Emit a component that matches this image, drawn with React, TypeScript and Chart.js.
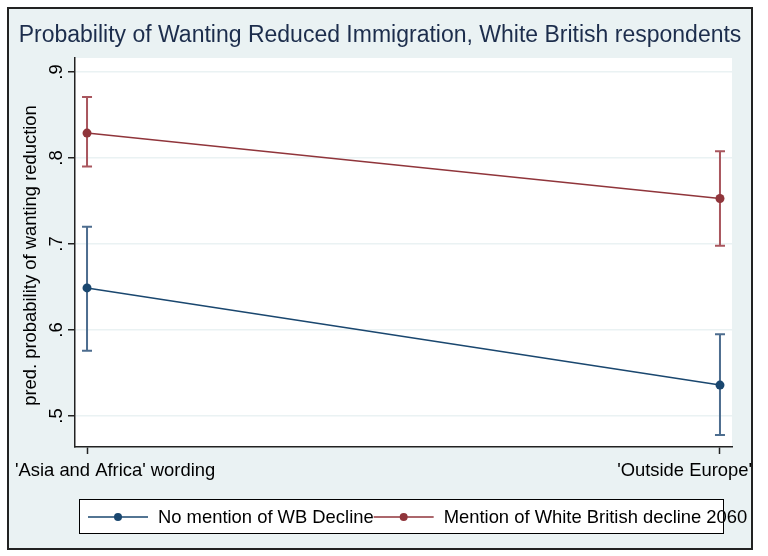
import { useEffect, useRef } from "react";
import { Chart, registerables } from "chart.js";

Chart.register(...registerables);

// x categories (positions 0 and 1 on the x scale)
const categories = ["'Asia and Africa' wording", "'Outside Europe'"];
const xPositions = [0, 1];

// predicted probabilities and 95% CIs
const noMention = [0.649, 0.536];
const noMentionLow = [0.576, 0.478];
const noMentionHigh = [0.72, 0.595];
const mention = [0.829, 0.753];
const mentionLow = [0.79, 0.698];
const mentionHigh = [0.871, 0.808];

const yTicks = [0.5, 0.6, 0.7, 0.8, 0.9];
const yTickLabels = [".5", ".6", ".7", ".8", ".9"];

const seriesNames = ["No mention of WB Decline", "Mention of White British decline 2060"];
const chartTitle = "Probability of Wanting Reduced Immigration, White British respondents";
const yTitle = "pred. probability of wanting reduction";

const NAVY = "#1a476f";
const MAROON = "#90353b";
const NAVY_CI = "#4d6d8f";
const MAROON_CI = "#a9565e";
const BG = "#eaf2f3";
const FONT = "'Liberation Sans', Arial, sans-serif";

const stataPlugin = {
  id: "stata",
  beforeDraw(chart: any) {
    const { ctx, chartArea } = chart;
    ctx.save();
    ctx.fillStyle = "#ffffff";
    ctx.fillRect(0, 0, chart.width, chart.height);
    ctx.fillStyle = BG;
    ctx.fillRect(8, 8, 744, 541);
    ctx.strokeStyle = "#222222";
    ctx.lineWidth = 2;
    ctx.strokeRect(8, 8, 744, 541);
    ctx.fillStyle = "#ffffff";
    ctx.fillRect(chartArea.left, chartArea.top, chartArea.right - chartArea.left, chartArea.bottom - chartArea.top);
    ctx.restore();
  },
  beforeDatasetsDraw(chart: any) {
    const { ctx } = chart;
    const xs = chart.scales.x;
    const ys = chart.scales.y;
    const sets = [
      { low: noMentionLow, high: noMentionHigh, color: NAVY_CI },
      { low: mentionLow, high: mentionHigh, color: MAROON_CI },
    ];
    ctx.save();
    ctx.lineWidth = 2;
    sets.forEach((s) => {
      ctx.strokeStyle = s.color;
      xPositions.forEach((xv, i) => {
        const px = xs.getPixelForValue(xv);
        const p1 = ys.getPixelForValue(s.low[i]);
        const p2 = ys.getPixelForValue(s.high[i]);
        ctx.beginPath();
        ctx.moveTo(px, p1);
        ctx.lineTo(px, p2);
        ctx.moveTo(px - 5, p1);
        ctx.lineTo(px + 5, p1);
        ctx.moveTo(px - 5, p2);
        ctx.lineTo(px + 5, p2);
        ctx.stroke();
      });
    });
    ctx.restore();
  },
  afterDraw(chart: any) {
    const { ctx } = chart;
    const xs = chart.scales.x;
    const ys = chart.scales.y;
    ctx.save();
    // title
    ctx.fillStyle = "#1c2d4c";
    ctx.font = `23px ${FONT}`;
    ctx.textAlign = "center";
    ctx.textBaseline = "alphabetic";
    ctx.fillText(chartTitle, 380, 42);

    ctx.fillStyle = "#000000";
    ctx.font = `18.4px ${FONT}`;
    // y tick labels, rotated
    yTicks.forEach((v, i) => {
      const py = ys.getPixelForValue(v);
      ctx.save();
      ctx.translate(62, py);
      ctx.rotate(-Math.PI / 2);
      ctx.textAlign = "center";
      ctx.fillText(yTickLabels[i], 0, 0);
      ctx.restore();
    });
    // y title
    ctx.save();
    ctx.translate(36, (chart.chartArea.top + chart.chartArea.bottom) / 2 + 3);
    ctx.rotate(-Math.PI / 2);
    ctx.textAlign = "center";
    ctx.fillText(yTitle, 0, 0);
    ctx.restore();

    // x tick labels, kept inside the graph region
    ctx.textAlign = "left";
    const w0 = ctx.measureText(categories[0]).width;
    ctx.fillText(categories[0], Math.max(15, xs.getPixelForValue(xPositions[0]) - w0 / 2), 476);
    const w1 = ctx.measureText(categories[1]).width;
    ctx.fillText(categories[1], Math.min(752 - w1, xs.getPixelForValue(xPositions[1]) - w1 / 2), 476);

    // legend
    ctx.fillStyle = "#ffffff";
    ctx.fillRect(79, 499, 644, 34);
    ctx.strokeStyle = "#000000";
    ctx.lineWidth = 1;
    ctx.strokeRect(79.5, 499.5, 644, 34);
    const colors = [NAVY, MAROON];
    let x = 88;
    const ly = 517;
    seriesNames.forEach((name, i) => {
      ctx.strokeStyle = colors[i];
      ctx.lineWidth = 1.5;
      ctx.beginPath();
      ctx.moveTo(x, ly);
      ctx.lineTo(x + 60, ly);
      ctx.stroke();
      ctx.fillStyle = colors[i];
      ctx.beginPath();
      ctx.arc(x + 30, ly, 4, 0, Math.PI * 2);
      ctx.fill();
      ctx.fillStyle = "#000000";
      ctx.textAlign = "left";
      ctx.fillText(name, x + 70, 523);
      x = x + 70 + ctx.measureText(name).width;
    });
    ctx.restore();
  },
};

export default function App() {
  const canvasRef = useRef<HTMLCanvasElement>(null);
  const chartRef = useRef<Chart | null>(null);

  useEffect(() => {
    if (!canvasRef.current) return;
    if (chartRef.current) chartRef.current.destroy();

    chartRef.current = new Chart(canvasRef.current, {
      type: "line",
      data: {
        datasets: [
          {
            label: seriesNames[0],
            data: xPositions.map((x, i) => ({ x, y: noMention[i] })),
            borderColor: NAVY,
            backgroundColor: NAVY,
            borderWidth: 1.5,
            pointRadius: 4.5,
            pointBorderWidth: 0,
            tension: 0,
          },
          {
            label: seriesNames[1],
            data: xPositions.map((x, i) => ({ x, y: mention[i] })),
            borderColor: MAROON,
            backgroundColor: MAROON,
            borderWidth: 1.5,
            pointRadius: 4.5,
            pointBorderWidth: 0,
            tension: 0,
          },
        ],
      },
      options: {
        responsive: false,
        animation: false,
        layout: { padding: { left: 68, top: 58, right: 36, bottom: 102 } },
        plugins: {
          legend: { display: false },
          title: { display: false },
          tooltip: { enabled: false },
        },
        scales: {
          x: {
            type: "linear",
            min: -0.019,
            max: 1.019,
            afterBuildTicks: (scale: any) => {
              scale.ticks = xPositions.map((v) => ({ value: v }));
            },
            ticks: { display: false },
            grid: {
              drawOnChartArea: false,
              drawTicks: true,
              tickLength: 7,
              tickColor: "#222222",
              tickWidth: 1.5,
            },
            border: { display: true, color: "#222222", width: 1.5 },
          },
          y: {
            type: "linear",
            min: 0.464,
            max: 0.9163,
            afterBuildTicks: (scale: any) => {
              scale.ticks = yTicks.map((v) => ({ value: v }));
            },
            ticks: { display: false },
            grid: {
              color: BG,
              lineWidth: 1.5,
              drawTicks: true,
              tickLength: 7,
              tickColor: "#222222",
              tickWidth: 1.5,
            },
            border: { display: true, color: "#222222", width: 1.5 },
          },
        },
      },
      plugins: [stataPlugin],
    });

    return () => {
      if (chartRef.current) {
        chartRef.current.destroy();
        chartRef.current = null;
      }
    };
  }, []);

  return (
    <div style={{ position: "absolute", left: 0, top: 0, width: 768, height: 556 }}>
      <canvas ref={canvasRef} width={768} height={556}></canvas>
    </div>
  );
}
